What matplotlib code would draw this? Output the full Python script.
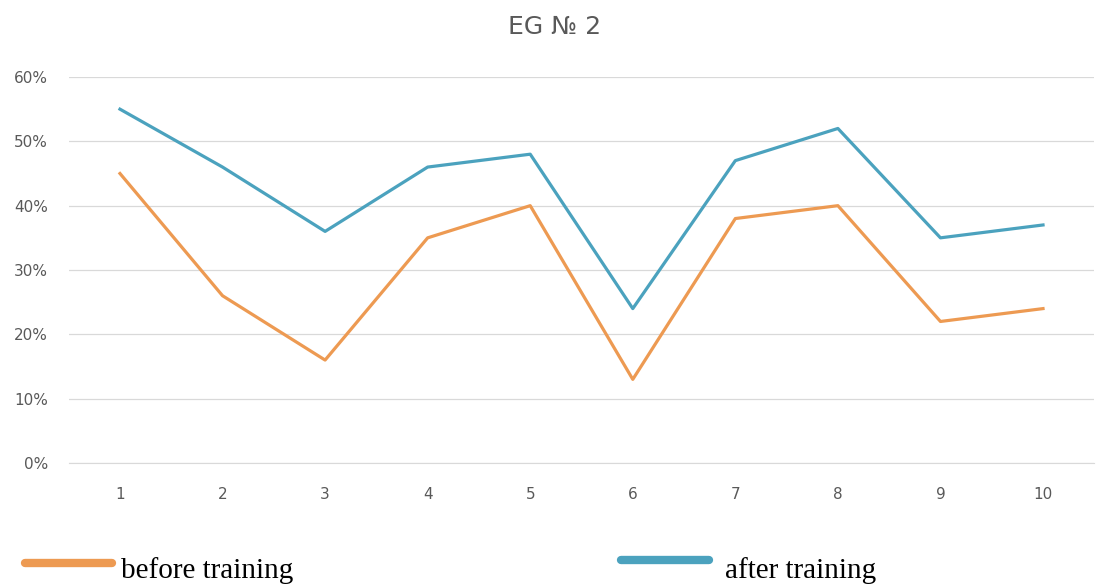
import numpy as np
import matplotlib.pyplot as plt
from matplotlib.lines import Line2D

# pupils 1..10, share of correct answers
pupils = [1, 2, 3, 4, 5, 6, 7, 8, 9, 10]
before = [45, 26, 16, 35, 40, 13, 38, 40, 22, 24]
after = [55, 46, 36, 46, 48, 24, 47, 52, 35, 37]
yticks = [0, 10, 20, 30, 40, 50, 60]

orange = '#ED9A52'
blue = '#4BA2BE'
grey = '#595959'

fig = plt.figure(figsize=(11.02, 5.84), dpi=100)
ax = fig.add_axes([68.7 / 1102, 1 - 463 / 584, (1094.3 - 68.7) / 1102, (463 - 77) / 584])

ax.plot(pupils, before, color=orange, lw=2.3, solid_joinstyle='round')
ax.plot(pupils, after, color=blue, lw=2.3, solid_joinstyle='round')

ax.set_xlim(0.5, 10.5)
ax.set_ylim(0, 60)
ax.set_xticks(pupils)
ax.set_yticks(yticks)
ax.set_yticklabels([f'{v}%' for v in yticks])
ax.tick_params(length=0, colors=grey, labelsize=11)
ax.tick_params(axis='x', pad=17)
ax.tick_params(axis='y', pad=15)
ax.grid(axis='y', color='#D9D9D9', lw=0.9)
ax.set_axisbelow(True)
for s in ax.spines.values():
    s.set_visible(False)
ax.spines['bottom'].set_visible(True)
ax.spines['bottom'].set_color('#D9D9D9')

fig.text(555 / 1102, 1 - 27 / 584, 'EG № 2', ha='center', va='center', fontsize=18, color=grey)

# legend drawn below the plot area
fig.add_artist(Line2D([25 / 1102, 112 / 1102], [1 - 563 / 584] * 2, color=orange, lw=6,
                      solid_capstyle='round', transform=fig.transFigure))
fig.text(121 / 1102, 1 - 578 / 584, 'before training', ha='left', va='baseline', fontsize=21,
         family='Liberation Serif', color='black')
fig.add_artist(Line2D([621 / 1102, 709 / 1102], [1 - 560 / 584] * 2, color=blue, lw=6,
                      solid_capstyle='round', transform=fig.transFigure))
fig.text(725 / 1102, 1 - 578 / 584, 'after training', ha='left', va='baseline', fontsize=21,
         family='Liberation Serif', color='black')

fig.savefig('out.png', dpi=100)
